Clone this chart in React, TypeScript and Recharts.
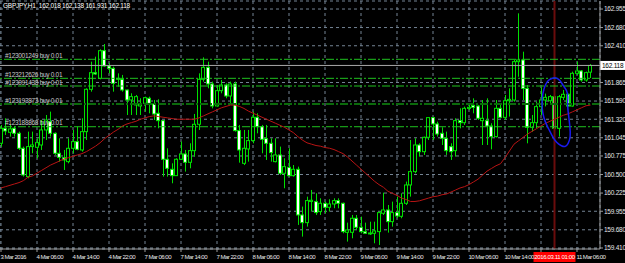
import React from 'react';
import { ComposedChart, Bar, Line, XAxis, YAxis, CartesianGrid, ReferenceLine } from 'recharts';

// GBPJPY H1, 3 Mar 22:00 .. 11 Mar 09:00 (one entry per hourly bar)
const opens = [
  160.963, 161.186, 161.126, 161.186, 161.111, 160.889, 160.469, 160.914, 160.904, 160.938,
  161.161, 161.284, 161.111, 160.815, 160.750, 160.691, 160.889, 160.988, 160.864, 161.136,
  161.764, 162.011, 161.927, 162.337, 162.110, 162.075, 161.912, 161.912, 161.754, 161.606,
  161.532, 161.517, 161.556, 161.631, 161.546, 161.408, 161.299, 160.726, 160.577, 160.483,
  160.726, 160.805, 160.681, 160.854, 161.245, 161.912, 162.090, 161.843, 161.517, 161.744,
  161.828, 161.665, 161.843, 161.151, 160.666, 160.879, 161.003, 161.349, 161.210, 161.032,
  160.963, 160.691, 160.790, 160.518, 160.607, 160.483, 160.577, 159.900, 159.786, 160.100,
  160.098, 159.950, 160.073, 160.014, 160.063, 160.113, 160.073, 159.643, 159.643, 159.851,
  159.717, 159.653, 159.623, 159.628, 159.653, 159.925, 159.974, 159.801, 159.935, 159.880,
  160.073, 160.345, 160.543, 160.938, 160.839, 161.052, 161.344, 161.250, 161.111, 161.037,
  160.913, 160.854, 161.299, 161.269, 161.480, 161.526, 161.516, 161.299, 161.299, 161.220,
  161.062, 161.482, 161.348, 161.595, 161.605, 162.174, 162.199, 161.778, 161.200, 161.269,
  161.507, 161.605, 161.595, 161.655, 161.185, 161.645, 161.690, 161.516, 162.001, 162.036,
  161.902, 162.018,
];
const highs = [
  161.235, 161.334, 161.235, 161.210, 161.136, 160.914, 161.136, 161.136, 161.037, 161.309,
  161.383, 161.433, 161.125, 161.037, 160.864, 161.037, 161.161, 161.210, 161.334, 161.779,
  162.174, 162.248, 162.357, 162.436, 162.150, 162.100, 162.001, 161.977, 161.760, 161.705,
  161.680, 161.631, 161.655, 161.655, 161.606, 161.616, 161.300, 160.889, 160.666, 160.741,
  160.988, 160.864, 160.963, 161.398, 162.001, 162.238, 162.174, 161.878, 161.828, 161.902,
  161.853, 161.878, 161.878, 161.235, 161.161, 161.161, 161.433, 161.408, 161.235, 161.235,
  161.037, 161.037, 160.914, 160.741, 160.889, 160.641, 160.617, 160.024, 160.172, 160.271,
  160.222, 160.147, 160.098, 160.133, 160.147, 160.147, 160.083, 159.786, 159.900, 159.900,
  159.875, 159.786, 159.800, 159.800, 159.950, 160.231, 160.048, 160.098, 160.172, 160.222,
  160.395, 161.012, 161.037, 160.963, 161.062, 161.349, 161.349, 161.284, 161.200, 161.136,
  160.963, 161.334, 161.482, 161.507, 161.556, 161.630, 161.532, 161.605, 161.630, 161.260,
  161.605, 161.556, 161.680, 161.779, 162.199, 162.891, 162.322, 161.828, 161.383, 161.580,
  161.793, 161.700, 161.680, 161.700, 161.680, 161.754, 161.700, 162.026, 162.174, 162.050,
  162.026, 162.138,
];
const lows = [
  160.914, 161.087, 161.062, 161.062, 160.864, 160.469, 160.444, 160.815, 160.741, 160.864,
  161.012, 161.062, 160.790, 160.691, 160.567, 160.666, 160.815, 160.860, 160.839, 161.012,
  161.729, 161.977, 161.912, 162.100, 162.001, 161.729, 161.803, 161.729, 161.383, 161.383,
  161.383, 161.383, 161.433, 161.408, 161.309, 161.186, 160.469, 160.469, 160.370, 160.478,
  160.716, 160.543, 160.592, 160.765, 161.161, 161.878, 161.779, 161.482, 161.507, 161.705,
  161.631, 161.556, 161.136, 160.676, 160.640, 160.691, 160.963, 161.111, 160.815, 160.716,
  160.691, 160.680, 160.493, 160.296, 160.469, 160.469, 159.752, 159.579, 159.727, 159.950,
  159.900, 159.900, 159.925, 159.950, 160.000, 159.999, 159.628, 159.505, 159.554, 159.677,
  159.628, 159.618, 159.604, 159.480, 159.455, 159.900, 159.638, 159.727, 159.851, 159.851,
  160.048, 160.172, 160.518, 160.765, 160.790, 161.012, 161.012, 161.062, 160.938, 160.790,
  160.716, 160.765, 161.185, 161.235, 161.457, 161.408, 161.309, 160.938, 160.938, 160.874,
  161.050, 161.334, 161.309, 161.359, 161.580, 161.950, 161.605, 160.963, 161.136, 161.185,
  161.383, 161.510, 161.556, 161.136, 161.062, 161.605, 161.507, 161.507, 161.976, 161.877,
  161.877, 161.931,
];
const closes = [
  161.186, 161.146, 161.176, 161.111, 160.889, 160.493, 160.914, 160.938, 160.973, 161.161,
  161.309, 161.111, 160.815, 160.755, 160.716, 160.889, 160.988, 160.874, 161.136, 161.764,
  162.011, 161.991, 162.337, 162.110, 162.075, 161.853, 161.927, 161.754, 161.606, 161.655,
  161.655, 161.546, 161.640, 161.556, 161.398, 161.299, 160.726, 160.592, 160.483, 160.726,
  160.805, 160.681, 160.854, 161.245, 161.912, 162.090, 161.843, 161.517, 161.744, 161.828,
  161.665, 161.843, 161.151, 160.864, 160.889, 161.003, 161.349, 161.210, 161.022, 160.963,
  160.825, 160.790, 160.518, 160.617, 160.483, 160.577, 159.900, 159.786, 160.113, 160.118,
  159.935, 160.073, 160.014, 160.063, 160.113, 160.073, 159.653, 159.677, 159.851, 159.717,
  159.653, 159.628, 159.633, 159.663, 159.935, 159.974, 159.801, 159.935, 159.885, 160.073,
  160.345, 160.543, 160.938, 160.839, 161.052, 161.344, 161.250, 161.101, 161.037, 160.854,
  160.839, 161.299, 161.269, 161.482, 161.497, 161.497, 161.334, 161.334, 161.220, 161.062,
  161.482, 161.348, 161.595, 161.615, 162.174, 162.199, 161.778, 161.200, 161.269, 161.507,
  161.605, 161.645, 161.655, 161.185, 161.655, 161.690, 161.516, 162.001, 162.036, 161.902,
  162.011, 162.118,
];
// moving average
const maValues = [
  160.30, 160.32, 160.34, 160.36, 160.38, 160.41, 160.46, 160.48, 160.52, 160.56,
  160.60, 160.64, 160.67, 160.70, 160.73, 160.75, 160.77, 160.79, 160.81, 160.84,
  160.88, 160.92, 160.97, 161.03, 161.08, 161.13, 161.17, 161.22, 161.25, 161.27,
  161.29, 161.32, 161.34, 161.36, 161.37, 161.36, 161.35, 161.34, 161.33, 161.32,
  161.32, 161.32, 161.32, 161.32, 161.34, 161.37, 161.40, 161.43, 161.46, 161.49,
  161.51, 161.53, 161.53, 161.51, 161.48, 161.44, 161.41, 161.38, 161.35, 161.32,
  161.29, 161.26, 161.23, 161.20, 161.16, 161.12, 161.06, 161.01, 160.97, 160.95,
  160.93, 160.92, 160.90, 160.89, 160.87, 160.84, 160.81, 160.76, 160.70, 160.64,
  160.58, 160.52, 160.46, 160.40, 160.35, 160.31, 160.25, 160.22, 160.19, 160.15,
  160.13, 160.10, 160.10, 160.11, 160.13, 160.15, 160.17, 160.18, 160.20, 160.21,
  160.24, 160.27, 160.30, 160.32, 160.35, 160.39, 160.43, 160.49, 160.55, 160.59,
  160.63, 160.66, 160.75, 160.85, 160.95, 161.00, 161.05, 161.10, 161.14, 161.18,
  161.22, 161.26, 161.29, 161.32, 161.35, 161.38, 161.40, 161.43, 161.46, 161.49,
  161.52, 161.53,
];

const timeTicks = [0, 8, 16, 24, 32, 40, 48, 56, 64, 72, 80, 88, 96, 104, 112, 120, 128];
const timeLabels = [
  '3 Mar 2016', '4 Mar 06:00', '4 Mar 14:00', '4 Mar 22:00', '7 Mar 06:00', '7 Mar 14:00',
  '7 Mar 22:00', '8 Mar 06:00', '8 Mar 14:00', '8 Mar 22:00', '9 Mar 06:00', '9 Mar 14:00',
  '9 Mar 22:00', '10 Mar 06:00', '10 Mar 14:00', '', '11 Mar 06:00',
];
const priceTicks = [
  162.955, 162.68, 162.41, 161.865, 161.59, 161.32, 161.045, 160.775, 160.5, 160.225,
  159.955, 159.68, 159.41,
];

const orderTickets = ['#123001249', '#123212626', '#123091438', '#123193873', '#123188868'];
const orderPrices = [162.209, 161.927, 161.813, 161.546, 161.209];

const lastPrice = 162.118;
const markerBar = 123;
const markerLabel = '2016.03.11 01:00';

// hand drawn blue outline (bar index, price)
const blobIndex = [
  123.33, 124.22, 124.96, 125.7, 126.07, 125.85, 126.07, 126.44, 126.59, 126.07, 125.33,
  124.59, 123.48, 122.37, 121.63, 120.89, 120.37, 120.15, 120.37, 120.89, 121.63, 122.37,
];
const blobPrice = [
  161.942, 161.902, 161.813, 161.754, 161.654, 161.556, 161.408, 161.209, 161.061, 160.953,
  160.904, 160.923, 160.963, 161.086, 161.186, 161.284, 161.408, 161.556, 161.705, 161.828,
  161.902, 161.927,
];

const candles = opens.map((o, i) => ({
  i,
  open: o,
  high: highs[i],
  low: lows[i],
  close: closes[i],
  range: [lows[i], highs[i]],
  ma: maValues[i],
}));
const blob = blobIndex.map((i, k) => ({ i, p: blobPrice[k] }));

const GREEN = '#00e000';
const FONT = 'Liberation Sans, Arial, sans-serif';

function Candle(props: any) {
  const { x, y, width, height, payload } = props;
  if (x == null || payload == null) return null;
  const cx = Math.round(x + width / 2) + 0.5;
  const top = Math.min(y, y + height);
  const h = Math.abs(height);
  const span = payload.high - payload.low;
  const toY = (v: number) => (span === 0 ? top : top + ((payload.high - v) / span) * h);
  const yo = toY(payload.open);
  const yc = toY(payload.close);
  const bull = payload.close >= payload.open;
  const bodyTop = Math.min(yo, yc);
  const bodyH = Math.max(Math.abs(yc - yo), 1);
  return (
    <g>
      <line x1={cx} x2={cx} y1={top} y2={top + h} stroke={GREEN} strokeWidth={1} />
      <rect x={cx - 2} y={bodyTop} width={3} height={bodyH} fill={bull ? '#000' : '#fff'} stroke={GREEN} strokeWidth={1} />
    </g>
  );
}

function PriceTick(props: any) {
  const { x, y, payload } = props;
  return (
    <text x={x} y={y} dy={2.3} fill="#e6e6e6" fontSize={6.5} fontFamily={FONT} textAnchor="start" letterSpacing={-0.25}>
      {Number(payload.value).toFixed(3)}
    </text>
  );
}

function TimeTick(props: any) {
  const { x, y, payload } = props;
  const label = timeLabels[timeTicks.indexOf(payload.value)];
  if (!label) return null;
  return (
    <text x={x - 0.5} y={y} dy={6} fill="#e6e6e6" fontSize={6.1} fontFamily={FONT} textAnchor="start" letterSpacing={-0.55}>
      {label}
    </text>
  );
}

function OrderTag(props: any) {
  const { viewBox, text } = props;
  if (!viewBox) return null;
  return (
    <text x={viewBox.x + 5} y={viewBox.y - 1.5} fill="#c8c8c8" fontSize={6.5} fontFamily={FONT} letterSpacing={-0.3}>
      {text}
    </text>
  );
}

function PriceTag(props: any) {
  const { viewBox } = props;
  if (!viewBox) return null;
  const right = viewBox.x + viewBox.width;
  return (
    <g>
      <rect x={right} y={viewBox.y - 4.5} width={25} height={9} fill="#fff" />
      <text x={right + 2} y={viewBox.y + 2.4} fill="#000" fontSize={6.5} fontFamily={FONT} letterSpacing={-0.25}>
        {lastPrice.toFixed(3)}
      </text>
    </g>
  );
}

function TimeTag(props: any) {
  const { viewBox } = props;
  if (!viewBox) return null;
  const bottom = viewBox.y + viewBox.height;
  return (
    <g>
      <rect x={viewBox.x - 21} y={bottom + 3} width={42} height={10} fill="#ff0000" />
      <text x={viewBox.x} y={bottom + 10.3} fill="#fff" fontSize={6.1} fontFamily={FONT} textAnchor="middle" letterSpacing={-0.4}>
        {markerLabel}
      </text>
    </g>
  );
}

export default function App() {
  return (
    <div style={{ position: 'fixed', left: 0, top: 0, width: 625, height: 263, background: '#000', overflow: 'hidden' }}>
      <ComposedChart width={625} height={263} data={candles} margin={{ top: 1, right: 0, bottom: 0, left: 0 }}>
        <CartesianGrid stroke="#748494" strokeDasharray="3 3" />
        <XAxis
          type="number"
          dataKey="i"
          domain={[-2 / 9, 1198 / 9]}
          allowDataOverflow
          ticks={timeTicks}
          interval={0}
          height={14}
          tickSize={3}
          tickMargin={1}
          tick={<TimeTick />}
          axisLine={{ stroke: '#9a9a9a' }}
          tickLine={{ stroke: '#9a9a9a' }}
        />
        <YAxis
          orientation="right"
          type="number"
          width={25}
          domain={[159.395, 163.074]}
          allowDataOverflow
          ticks={priceTicks}
          interval={0}
          tickSize={3}
          tickMargin={1}
          tick={<PriceTick />}
          axisLine={{ stroke: '#9a9a9a' }}
          tickLine={{ stroke: '#9a9a9a' }}
        />
        <ReferenceLine x={markerBar} stroke="#6a0c0c" strokeWidth={2} label={<TimeTag />} />
        {orderPrices.map((p, k) => (
          <ReferenceLine
            key={orderTickets[k]}
            y={p}
            stroke={k === 3 ? '#0b6a0b' : '#1fc21f'}
            strokeWidth={k === 3 ? 2 : 1}
            strokeDasharray="8 2 2 2"
            label={<OrderTag text={`${orderTickets[k]} buy 0.01`} />}
          />
        ))}
        <ReferenceLine y={lastPrice} stroke="#a8a8a8" strokeWidth={1} label={<PriceTag />} />
        <Bar dataKey="range" barSize={4} shape={<Candle />} isAnimationActive={false} />
        <Line dataKey="ma" stroke="#b81414" strokeWidth={1} dot={false} activeDot={false} isAnimationActive={false} />
        <Line
          data={blob}
          dataKey="p"
          type="basisClosed"
          stroke="#1a1af0"
          strokeWidth={1.5}
          dot={false}
          activeDot={false}
          isAnimationActive={false}
        />
      </ComposedChart>
      <div
        style={{
          position: 'absolute',
          left: 3,
          top: 2,
          color: '#fff',
          fontFamily: FONT,
          fontSize: 6.5,
          letterSpacing: -0.25,
          whiteSpace: 'pre',
        }}
      >
        GBPJPY,H1  162.018 162.138 161.931 162.118
      </div>
    </div>
  );
}
